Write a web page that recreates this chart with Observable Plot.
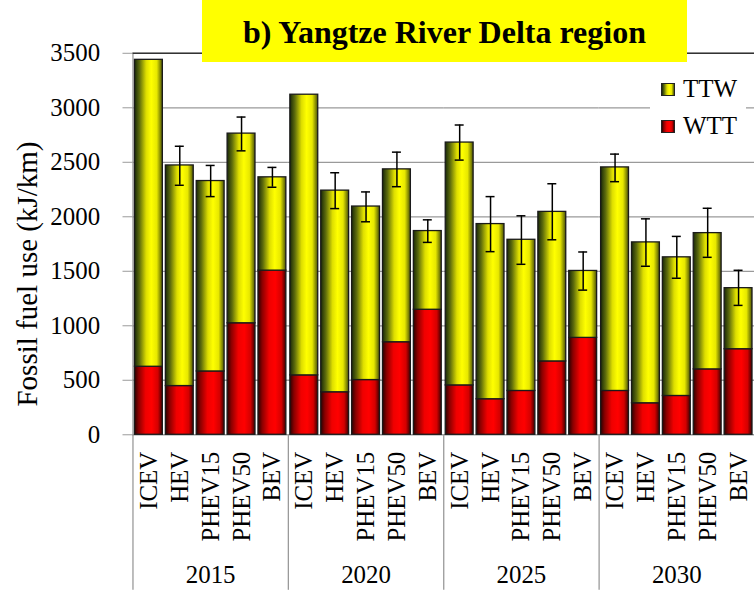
<!DOCTYPE html>
<html><head><meta charset="utf-8">
<script src="https://cdn.jsdelivr.net/npm/d3@7"></script>
<script src="https://cdn.jsdelivr.net/npm/@observablehq/plot@0.6"></script>
<style>
html,body{margin:0;padding:0;background:#fff;}
#wrap{position:relative;width:754px;height:591px;overflow:hidden;font-family:"Liberation Serif","Times New Roman",serif;color:#000;}
#chart{position:absolute;left:0;top:0;}
#title{position:absolute;left:202px;top:0;width:485px;height:62px;background:#ffff00;font-weight:bold;font-size:32px;line-height:64px;text-align:center;white-space:nowrap;}
#ylabel{position:absolute;left:26.5px;top:274px;transform:translate(-50%,-50%) rotate(-90deg);font-size:29px;line-height:1;white-space:nowrap;}
#legend{position:absolute;left:650px;top:72px;width:96px;height:74px;background:#fff;}
.sw{position:absolute;width:12px;height:11px;border:1px solid #222;}
.lt{position:absolute;font-size:25px;line-height:25px;white-space:nowrap;}
</style></head>
<body>
<div id="wrap">
  <div id="chart"></div>
  <div id="title">b) Yangtze River Delta region</div>
  <div id="ylabel">Fossil fuel use (kJ/km)</div>
  <div id="legend"></div>
</div>
<script>
const vehicles = ["ICEV", "HEV", "PHEV15", "PHEV50", "BEV"];
const years = [2015, 2020, 2025, 2030];
// total fossil fuel use (WTT + TTW), kJ/km, year by year, vehicles within each year
const totalUse = [3440, 2471, 2328, 2763, 2362,
                  3120, 2240, 2094, 2435, 1869,
                  2681, 1933, 1789, 2045, 1503,
                  2453, 1765, 1628, 1850, 1345];
const wttUse = [624, 447, 581, 1023, 1506,
                545, 390, 502, 849, 1147,
                453, 326, 402, 673, 889,
                402, 289, 356, 600, 785];
const errUpper = [null, 2647, 2471, 2915, 2453,
                  null, 2404, 2228, 2593, 1972,
                  2842, 2185, 2009, 2303, 1677,
                  2575, 1981, 1820, 2078, 1509];
const errLower = [null, 2289, 2185, 2605, 2271,
                  null, 2075, 1954, 2276, 1765,
                  2520, 1680, 1564, 1789, 1327,
                  2322, 1546, 1436, 1628, 1187];
const yTicks = [0, 500, 1000, 1500, 2000, 2500, 3000, 3500];
const legendItems = ["TTW", "WTT"];

const ttwStops = [[0, "#182808"], [0.18, "#5e6c0c"], [0.42, "#dede00"], [0.6, "#ffff00"], [0.8, "#e8e800"], [1, "#4a5206"]];
const wttStops = [[0, "#2a0000"], [0.15, "#8a0000"], [0.4, "#f00000"], [0.62, "#ff0000"], [0.84, "#d40000"], [1, "#3c0000"]];

const rows = [];
years.forEach((yr, i) => vehicles.forEach((v, j) => {
  const k = i * vehicles.length + j;
  rows.push({year: yr, veh: v, total: totalUse[k], wtt: wttUse[k], hi: errUpper[k], lo: errLower[k]});
}));
const errRows = rows.filter(d => d.hi != null);

const plot = Plot.plot({
  width: 757, height: 591,
  marginLeft: 133, marginRight: 0, marginTop: 53, marginBottom: 155,
  style: {fontFamily: '"Liberation Serif", "Times New Roman", serif', fontSize: "25px", color: "#000", background: "transparent", overflow: "visible"},
  fx: {domain: years, padding: 0},
  x: {domain: vehicles, paddingInner: 0.1, paddingOuter: 0.05},
  y: {domain: [0, 3500]},
  marks: [
    Plot.gridY(yTicks, {stroke: "#9a9a9a", strokeOpacity: 1, strokeWidth: 1.3}),
    Plot.frame({anchor: "left", stroke: "#9a9a9a", strokeOpacity: 1, strokeWidth: 1.3, insetTop: 383, insetBottom: -155}),
    Plot.frame({anchor: "left", stroke: "#9a9a9a", strokeOpacity: 1, strokeWidth: 1.3, facetAnchor: "left"}),
    Plot.ruleY([3500], {stroke: "#333", strokeWidth: 1.5}),
    Plot.barY(rows, {fx: "year", x: "veh", y1: 0, y2: "wtt", fill: "url(#gWTT)", stroke: "#1a1a1a", strokeWidth: 1.3}),
    Plot.barY(rows, {fx: "year", x: "veh", y1: "wtt", y2: "total", fill: "url(#gTTW)", stroke: "#1a1a1a", strokeWidth: 1.3}),
    Plot.ruleX(errRows, {fx: "year", x: "veh", y1: "lo", y2: "hi", stroke: "#000", strokeWidth: 1.5}),
    Plot.tickY(errRows, {fx: "year", x: "veh", y: "hi", insetLeft: 9.5, insetRight: 9.5, stroke: "#000", strokeWidth: 1.5}),
    Plot.tickY(errRows, {fx: "year", x: "veh", y: "lo", insetLeft: 9.5, insetRight: 9.5, stroke: "#000", strokeWidth: 1.5}),
    Plot.axisY(yTicks, {tickSize: 10, tickPadding: 23, stroke: "#9a9a9a", fill: "#000", fontSize: 25, label: null, tickFormat: d => String(d)}),
    Plot.axisX({tickRotate: -90, tickSize: 0, tickPadding: 17, fontSize: 25, label: null}),
    Plot.axisFx({anchor: "bottom", tickSize: 0, tickPadding: 131, fontSize: 25, label: null, tickFormat: d => String(d)})
  ]
});

function addGrad(defs, id, stops) {
  const g = defs.append("linearGradient").attr("id", id).attr("x1", 0).attr("x2", 1).attr("y1", 0).attr("y2", 0);
  stops.forEach(([o, c]) => g.append("stop").attr("offset", o).attr("stop-color", c));
}
const defs = d3.select(plot).insert("defs", ":first-child");
addGrad(defs, "gTTW", ttwStops);
addGrad(defs, "gWTT", wttStops);
document.getElementById("chart").appendChild(plot);

const css = stops => "linear-gradient(to right," + stops.map(([o, c]) => c + " " + (o * 100) + "%").join(",") + ")";
const leg = d3.select("#legend");
legendItems.forEach((name, i) => {
  const stops = name === "TTW" ? ttwStops : wttStops;
  leg.append("div").attr("class", "sw").style("left", "11px").style("top", (11 + i * 37) + "px").style("background", css(stops));
  leg.append("div").attr("class", "lt").style("left", "33px").style("top", (4 + i * 37) + "px").text(name);
});
</script>
</body></html>
